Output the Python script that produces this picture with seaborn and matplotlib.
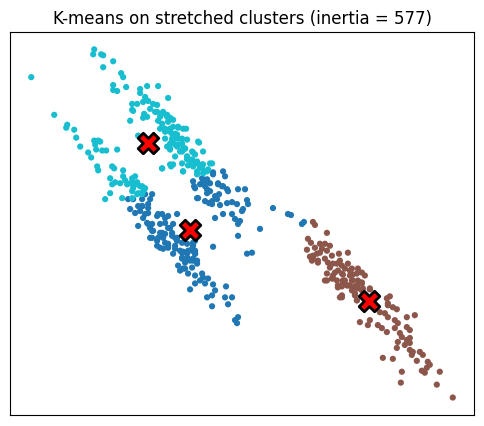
"""K-means em clusters esticados: pontos coloridos pelo rótulo e centróides."""

import matplotlib

matplotlib.use("Agg")
import matplotlib.pyplot as plt
import pandas as pd
import seaborn as sns

INERTIA = 577

# Cluster 0 (azul)
blue_x = [
    21.3, 22.3, 22.5, 20.2, 20.7, 19.3, 20.0, 20.5, 21.0, 21.8, 22.3, 22.7, 23.8, 19.5,
    14.5, 15.2, 14.2, 15.0, 13.3, 13.0, 13.5, 14.2, 14.8, 14.5,
    13.8, 14.7, 15.0, 15.7, 16.2, 16.8, 17.7, 16.0, 16.5, 17.0,
    16.2, 17.2, 15.2, 15.7, 16.5, 16.0, 16.8, 17.5, 17.3, 18.0,
    18.7, 19.3, 19.5, 19.0, 18.3, 19.2, 19.7, 20.7, 19.8, 20.9, 17.5,
    19.4, 20.2, 20.7, 21.3, 21.8, 22.2, 20.7, 19.7, 21.5, 21.9,
    22.8, 24.5, 21.7, 21.2, 22.0, 22.7, 23.2, 23.7, 24.7, 24.8,
    24.3, 24.2, 27.3, 28.8, 29.1, 22.3, 21.5, 23.2, 23.5, 24.0,
    23.8, 26.0, 23.8, 21.3, 19.3, 19.2, 18.3, 19.5, 18.2, 19.3,
    18.5, 24.7, 25.2, 18.0, 18.8, 19.5, 20.2, 20.3, 20.0, 20.8,
    20.5, 19.5, 21.3, 22.6, 19.0, 21.5, 21.2, 20.7, 22.5, 23.2,
    22.8, 21.2, 23.8, 23.5, 23.7, 30.2, 30.4,
    12.8, 13.8, 14.8, 14.8, 16.5, 16.8, 15.2, 16.0, 16.3, 17.2,
    17.7, 16.8, 17.5, 18.2, 18.7, 19.2, 19.5, 18.7, 19.3, 17.8, 21.0, 21.2,
    14.2, 14.0, 14.8, 15.8, 14.3, 15.2, 17.3, 15.3, 15.0, 15.8,
    16.5, 17.7, 16.8, 18.2, 15.7, 16.3, 18.8, 19.3, 19.5, 18.2,
    18.8, 19.7, 18.5, 20.5,
]
blue_y = [
    -17.1, -17.0, -17.5, -17.7, -17.8, -18.0, -18.3, -18.5, -18.2, -18.2, -18.5, -18.8, -18.8, -18.7,
    -19.3, -19.3, -19.8, -19.8, -19.8, -20.8, -21.2, -20.5, -20.7, -21.3,
    -22.5, -22.2, -22.7, -21.5, -21.3, -21.5, -21.3, -22.3, -22.2, -22.7,
    -23.2, -23.2, -23.7, -24.0, -24.2, -24.7, -24.7, -24.5, -25.3, -25.0,
    -25.3, -24.3, -25.0, -26.0, -26.8, -26.7, -26.3, -19.2, -19.7, -20.2, -23.7,
    -18.5, -18.2, -18.0, -17.3, -18.3, -18.5, -18.8, -19.7, -19.5, -19.3,
    -19.0, -18.8, -19.8, -20.3, -20.4, -20.2, -20.1, -20.3, -19.9, -20.3,
    -20.8, -21.0, -20.7, -21.3, -21.4, -21.3, -21.7, -21.3, -21.8, -22.0,
    -22.3, -22.8, -23.5, -24.6, -24.2, -24.8, -25.1, -25.3, -25.8, -25.8,
    -26.2, -25.3, -25.2, -27.0, -27.3, -27.5, -27.3, -27.7, -28.0, -27.8,
    -28.3, -28.3, -28.4, -28.6, -28.9, -29.0, -29.5, -29.7, -29.7, -29.7,
    -30.4, -30.6, -31.7, -32.0, -32.3, -22.3, -22.1,
    -19.8, -20.5, -20.3, -22.3, -21.7, -22.7, -23.0, -23.2, -23.7, -23.5,
    -24.0, -24.5, -24.8, -25.2, -24.3, -25.0, -24.0, -25.8, -26.0, -26.5, -19.0, -20.0,
    -20.5, -21.0, -21.2, -21.3, -21.7, -22.3, -22.3, -23.0, -23.7, -23.7,
    -23.3, -23.7, -24.3, -24.2, -24.5, -24.8, -25.0, -24.5, -25.3, -25.7,
    -25.8, -26.0, -26.8, -20.0,
]

# Cluster 1 (marrom)
brown_x = [
    31.3, 31.5, 32.7, 30.8, 31.1, 32.5, 33.0, 32.2, 30.7, 32.7,
    31.7, 33.9, 34.8, 31.0, 31.3, 31.8, 32.8, 33.7, 34.2, 33.0,
    34.5, 35.0, 35.8, 33.8, 32.7, 33.3, 34.3, 35.3, 36.2, 36.5,
    33.7, 34.5, 35.2, 32.7, 33.2, 35.8, 36.2, 34.2, 34.8, 35.5,
    33.8, 35.2, 35.8, 36.3, 34.0, 35.5, 38.7, 38.8,
    34.3, 35.0, 35.7, 36.2, 34.2, 35.5, 35.7, 37.0, 39.0, 38.8,
    39.3, 39.7, 38.0, 38.5, 38.8, 40.7, 41.5, 36.0, 37.0, 36.8,
    37.8, 38.2, 39.5, 39.8, 39.5, 40.7, 41.0, 38.7, 40.0, 40.2,
    40.7, 41.0, 39.8, 40.5, 41.0, 39.7, 41.0, 41.3, 42.0, 42.3,
    41.2, 38.3, 39.3, 41.7, 42.8, 43.0, 42.7, 42.2, 42.5, 44.0,
    40.2, 40.1, 43.7, 45.3,
    32.0, 31.5, 32.0, 31.3, 31.2, 31.8, 32.5, 33.2, 34.0, 33.3,
    34.8, 35.2, 33.5, 34.2, 35.0, 35.7, 32.5, 33.3, 34.3, 35.3,
    36.0, 33.8, 34.7, 35.3, 36.2, 37.0, 34.2, 35.7,
]
brown_y = [
    -22.1, -22.4, -23.2, -23.8, -24.2, -24.3, -24.5, -24.8, -24.9, -25.0,
    -25.3, -25.3, -25.2, -25.6, -25.7, -26.2, -26.2, -26.3, -26.5, -26.7,
    -26.8, -27.0, -26.8, -27.0, -27.3, -27.5, -27.4, -27.4, -27.2, -27.5,
    -28.0, -28.0, -28.0, -28.0, -27.8, -28.0, -28.2, -28.6, -28.5, -28.6,
    -28.7, -29.0, -28.8, -28.8, -29.7, -29.5, -29.8, -30.3,
    -28.3, -28.5, -28.5, -28.3, -29.5, -29.3, -30.0, -28.9, -29.6, -30.5,
    -30.7, -30.9, -31.2, -31.3, -31.7, -31.7, -31.5, -32.2, -32.0, -32.5,
    -32.5, -32.8, -32.0, -32.3, -32.8, -32.7, -33.0, -33.2, -33.3, -33.7,
    -34.0, -33.8, -34.2, -34.5, -34.3, -34.8, -35.0, -35.2, -35.2, -35.5,
    -35.5, -35.8, -35.9, -36.1, -36.2, -36.5, -36.8, -37.1, -37.3, -37.2,
    -37.2, -38.3, -38.5, -39.8,
    -24.3, -24.7, -25.2, -25.5, -26.0, -26.0, -25.8, -25.5, -26.0, -26.3,
    -26.3, -26.8, -27.2, -27.3, -27.5, -27.3, -28.0, -27.8, -28.0, -28.0,
    -28.2, -28.5, -28.5, -28.8, -29.0, -28.8, -29.7, -30.0,
]

# Cluster 2 (ciano)
cyan_x = [
    9.4, 9.3, 10.1, 10.3, 11.3, 10.3, 3.1, 12.1, 12.3, 11.3,
    12.6, 11.3, 11.7, 14.0, 14.7, 14.0, 13.2, 13.7, 14.3, 14.8,
    13.3, 14.4, 14.3, 13.0, 5.4, 6.7, 6.6, 7.4, 7.6, 9.4,
    9.8, 10.0, 9.5, 8.0, 9.6, 10.2, 10.6, 11.7, 8.8, 9.1, 13.8,
    15.8, 14.5, 16.8, 15.3, 13.2, 15.0, 15.7, 16.3, 14.7, 16.7,
    17.0, 15.8, 16.2, 17.8, 18.6, 16.0, 16.7, 17.2, 17.7, 17.5,
    18.2, 18.7, 16.5, 19.9, 17.0, 17.8, 18.3, 16.7, 18.2, 19.3,
    20.3, 17.5, 18.7, 19.1, 19.7, 21.0, 19.3, 20.0, 17.1, 16.2,
    18.3, 20.8, 13.5, 13.3, 13.7, 14.2,
    9.7, 9.8, 11.2, 11.4, 12.3, 11.0, 11.5, 11.2, 12.0, 12.5,
    12.3, 13.0, 13.3, 13.7, 14.0, 14.3, 13.8, 13.2, 11.0, 10.5,
    12.2, 18.8, 20.2, 20.3, 19.7,
    16.2, 16.5, 17.0, 17.3, 17.2, 17.7, 17.0, 18.0, 18.5, 18.7,
    19.3, 20.2, 18.2, 17.3,
    15.7, 16.3, 16.0, 16.7, 16.8, 17.3, 17.8, 18.3, 17.0, 17.5,
    17.2, 17.8, 18.2, 17.5, 18.5, 19.2, 19.8, 19.5, 18.7, 19.2,
    19.7, 20.3, 21.2, 20.7, 19.7, 18.3, 17.0, 16.2, 15.5, 16.5,
    17.0, 12.7, 13.2, 13.5, 14.5, 13.7, 13.2, 14.2,
]
cyan_y = [
    -4.7, -5.2, -5.2, -5.3, -5.9, -6.5, -7.5, -7.1, -7.5, -8.3,
    -8.5, -8.8, -8.9, -8.7, -8.4, -9.1, -10.2, -10.2, -10.0, -9.9,
    -10.9, -11.2, -11.6, -11.9, -11.3, -12.3, -12.6, -12.8, -13.6, -13.9,
    -13.9, -14.0, -14.3, -14.5, -14.8, -14.9, -14.9, -14.8, -15.1, -15.6, -13.4,
    -8.4, -9.5, -9.6, -10.2, -10.8, -10.7, -11.0, -11.1, -11.5, -11.5,
    -11.6, -11.9, -12.2, -12.6, -12.7, -12.7, -12.9, -13.2, -13.3, -13.7,
    -13.7, -13.8, -13.7, -14.1, -14.2, -14.3, -14.7, -14.5, -15.0, -15.1,
    -15.0, -15.5, -15.5, -16.0, -16.0, -16.2, -16.5, -16.6, -16.5, -16.7,
    -17.0, -16.8, -17.5, -18.2, -18.3, -18.5,
    -16.5, -16.9, -16.5, -16.7, -16.9, -17.7, -18.1, -18.3, -18.2, -17.9,
    -17.5, -18.2, -18.7, -18.1, -18.5, -19.0, -19.2, -19.0, -19.2, -19.8,
    -19.7, -16.4, -16.7, -17.2, -17.3,
    -11.2, -12.7, -13.0, -12.5, -14.0, -14.5, -14.8, -15.0, -14.7, -15.8,
    -16.2, -16.3, -16.2, -16.3,
    -10.3, -11.0, -11.5, -11.3, -12.0, -11.8, -12.5, -12.7, -12.7, -13.2,
    -13.7, -13.7, -14.2, -14.3, -14.7, -15.0, -14.0, -15.3, -15.5, -15.8,
    -16.2, -16.3, -16.2, -17.0, -17.0, -17.0, -16.3, -16.7, -11.0, -13.0,
    -14.7, -18.3, -17.7, -18.2, -18.7, -19.3, -19.7, -19.3,
]

# Centróides (ciano, azul, marrom)
center_x = [14.8, 19.0, 36.9]
center_y = [-14.1, -22.9, -30.1]

palette = {0: "#1f77b4", 1: "#8c564b", 2: "#17becf"}

df = pd.concat(
    [
        pd.DataFrame({"x": blue_x, "y": blue_y, "cluster": 0}),
        pd.DataFrame({"x": brown_x, "y": brown_y, "cluster": 1}),
        pd.DataFrame({"x": cyan_x, "y": cyan_y, "cluster": 2}),
    ],
    ignore_index=True,
)
centers = pd.DataFrame({"x": center_x, "y": center_y})

fig, ax = plt.subplots(figsize=(4.85, 4.26), dpi=100)
sns.scatterplot(
    data=df,
    x="x",
    y="y",
    hue="cluster",
    palette=palette,
    s=20,
    linewidth=0,
    legend=False,
    ax=ax,
)
sns.scatterplot(
    data=centers,
    x="x",
    y="y",
    marker="X",
    s=220,
    color="red",
    edgecolor="black",
    linewidth=2,
    legend=False,
    ax=ax,
)
ax.set_title("K-means on stretched clusters (inertia = %d)" % INERTIA)
ax.set_xticks([])
ax.set_yticks([])
ax.set_xlabel("")
ax.set_ylabel("")
fig.subplots_adjust(left=0.021, right=0.977, bottom=0.026, top=0.925)
fig.savefig("out.png", dpi=100)
